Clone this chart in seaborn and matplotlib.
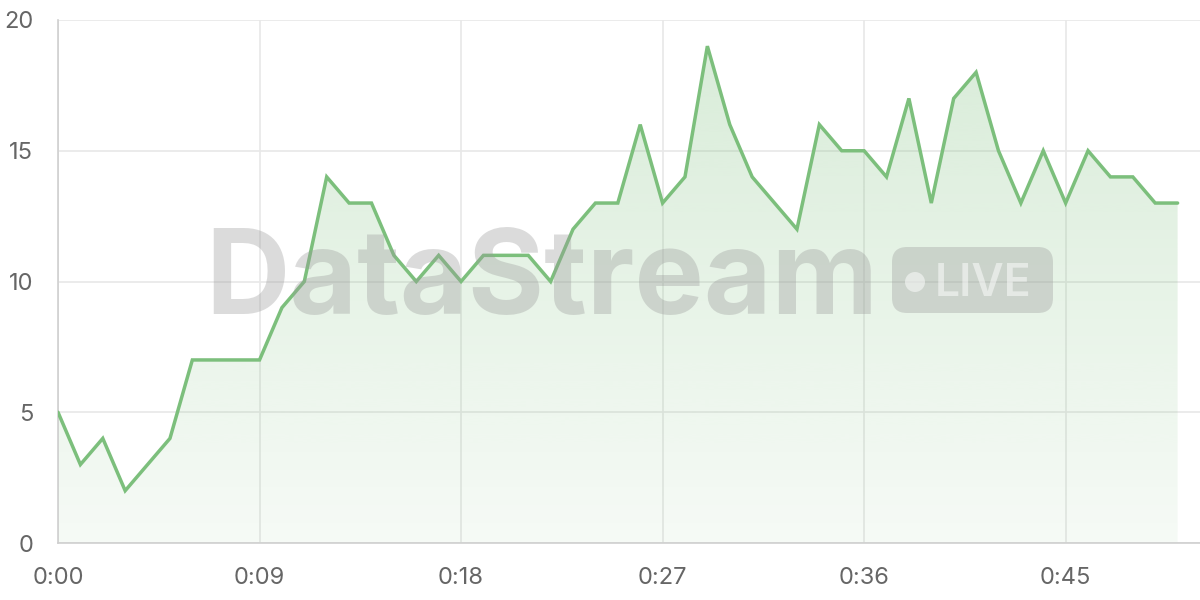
import numpy as np
import pandas as pd
import matplotlib
matplotlib.use("Agg")
import matplotlib.pyplot as plt
from matplotlib.patches import FancyBboxPatch, Ellipse
from matplotlib.colors import to_rgb
import seaborn as sns

# ---- data ----
seconds = list(range(51))
values = [5, 3, 4, 2, 3, 4, 7, 7, 7, 7,
          9, 10, 14, 13, 13, 11, 10, 11, 10, 11,
          11, 11, 10, 12, 13, 13, 16, 13, 14, 19,
          16, 14, 13, 12, 16, 15, 15, 14, 17, 13,
          17, 18, 15, 13, 15, 13, 15, 14, 14, 13, 13]
tick_positions = [0, 9, 18, 27, 36, 45]
tick_labels = ["0:00", "0:09", "0:18", "0:27", "0:36", "0:45"]
y_ticks = [0, 5, 10, 15, 20]
watermark = "DataStream"
badge = "LIVE"

df = pd.DataFrame({"t": seconds, "v": values})

sns.set_theme(style="white")
plt.rcParams['font.family'] = ['Inter', 'DejaVu Sans']

LINE = "#7cbf7c"
GRID = "#e8e8e8"
SPINE = "#cfcfcf"
TXT = "#666666"

fig = plt.figure(figsize=(12, 6), dpi=100)
ax = fig.add_axes([58/1200, 1 - 543/600, 1 - 58/1200, (543 - 20)/600])

# gradient fill under the line
poly = ax.fill_between(df["t"], df["v"], 0, color="none", lw=0)
rgb = np.array(to_rgb(LINE))
n = 256
img = np.zeros((n, 1, 4))
img[..., :3] = rgb
img[..., 3] = np.linspace(0.07, 0.30, n)[:, None]
im = ax.imshow(img, extent=[0, 50, 0, 20], origin="lower", aspect="auto",
               zorder=1, interpolation="bicubic")
im.set_clip_path(poly.get_paths()[0], transform=ax.transData)

sns.lineplot(data=df, x="t", y="v", ax=ax, color=LINE, lw=2.5, zorder=4,
             solid_joinstyle="miter")

ax.set_xlim(0, 51)
ax.set_ylim(0, 20)
ax.set_xticks(tick_positions)
ax.set_xticklabels(tick_labels)
ax.set_yticks(y_ticks)
ax.set_yticklabels([str(v) for v in y_ticks])
ax.set_xlabel("")
ax.set_ylabel("")
ax.grid(True, color=GRID, lw=1.2, zorder=0)
ax.set_axisbelow(True)
for s in ["top", "right"]:
    ax.spines[s].set_visible(False)
for s in ["left", "bottom"]:
    ax.spines[s].set_color(SPINE)
    ax.spines[s].set_linewidth(1.2)
ax.tick_params(axis="both", colors=GRID, length=11, width=1.2, labelcolor=TXT,
               labelsize=17, pad=6)
ax.tick_params(axis="y", pad=7)

# watermark
fig.text(205/1200, 1 - 314/600, watermark, fontsize=84, fontweight="bold",
         color="#9a9a9a", alpha=0.35, ha="left", va="baseline", zorder=3)
fig.patches.append(FancyBboxPatch((892/1200, 1 - 313/600), 161/1200, 66/600,
                                  boxstyle="round,pad=0,rounding_size=0.0125",
                                  transform=fig.transFigure, facecolor="#9a9a9a",
                                  alpha=0.35, edgecolor="none", zorder=3,
                                  mutation_aspect=2))
fig.patches.append(Ellipse((915/1200, 1 - 282/600), 20/1200, 20/600,
                           transform=fig.transFigure, facecolor="white",
                           alpha=0.5, edgecolor="none", zorder=3))
fig.text(935/1200, 1 - 296/600, badge, fontsize=32, fontweight="semibold",
         color="white", alpha=0.5, ha="left", va="baseline", zorder=3)

fig.savefig("out.png", dpi=100)
